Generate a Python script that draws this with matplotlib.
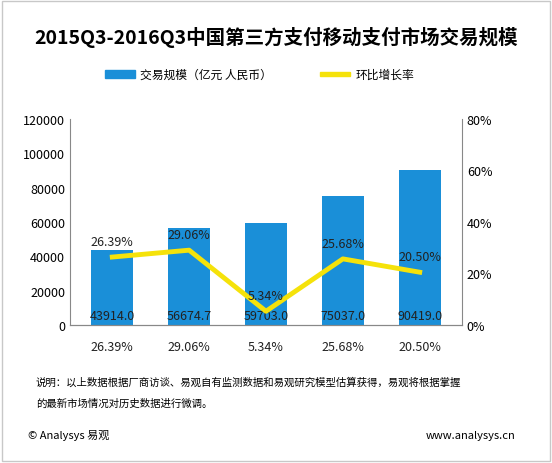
import matplotlib
matplotlib.use("Agg")
import matplotlib.pyplot as plt
from matplotlib.patches import Rectangle

plt.rcParams['font.family'] = ['Noto Sans CJK SC', 'DejaVu Sans']

categories = ["2015Q3", "2015Q4", "2016Q1", "2016Q2", "2016Q3"]
volume = [43914.0, 56674.7, 59703.0, 75037.0, 90419.0]
growth = [26.39, 29.06, 5.34, 25.68, 20.50]

W, H = 552, 464
fig = plt.figure(figsize=(W/100, H/100), dpi=100)
fig.patches.append(Rectangle((0.004, 0.004), 0.992, 0.992, transform=fig.transFigure,
                             fill=False, edgecolor="#c8c8c8", lw=1))
ax = fig.add_axes([70/W, 1-326/H, 392/W, 206/H])
x = list(range(len(categories)))
ax.bar(x, volume, width=0.55, color="#1a8fd8", zorder=2)
ax.set_xlim(-0.55, 4.55)
ax.set_ylim(0, 120000)
ax.set_yticks(range(0, 120001, 20000))
ax.tick_params(axis='y', labelsize=9, length=0)
ax.set_xticks([])
for s in ["top", "right"]:
    ax.spines[s].set_visible(False)
ax.spines["left"].set_color("#888")
ax.spines["bottom"].set_color("#888")
for xi, v in zip(x, volume):
    ax.text(xi, 2000, f"{v:.1f}", ha="center", va="bottom", fontsize=9, color="#222", zorder=5)
ax2 = ax.twinx()
ax2.plot(x, growth, color="#f5e20a", lw=3.5, zorder=3)
ax2.set_ylim(0, 80)
ax2.set_yticks(range(0, 81, 20))
ax2.set_yticklabels([f"{t}%" for t in range(0, 81, 20)])
ax2.tick_params(axis='y', labelsize=9, length=0)
for s in ["top", "left"]:
    ax2.spines[s].set_visible(False)
ax2.spines["right"].set_color("#888")
ax2.spines["bottom"].set_color("#888")
for xi, g in zip(x, growth):
    ax2.text(xi, g + 3.5, f"{g:.2f}%", ha="center", va="bottom", fontsize=9, color="#222")
    ax2.text(xi, -8.5, f"{g:.2f}%", ha="center", va="center", fontsize=9, color="#222", clip_on=False)

fig.text(0.5, 1-38/H, "2015Q3-2016Q3中国第三方支付移动支付市场交易规模", ha="center", va="center",
         fontsize=14, fontweight="bold")
fig.add_artist(Rectangle((105/W, 1-79/H), 30/W, 8/H, transform=fig.transFigure, color="#1a8fd8"))
fig.text(140/W, 1-75/H, "交易规模（亿元 人民币）", va="center", fontsize=8.5)
fig.add_artist(Rectangle((320/W, 1-77/H), 30/W, 4/H, transform=fig.transFigure, color="#f5e20a"))
fig.text(356/W, 1-75/H, "环比增长率", va="center", fontsize=8.5)
fig.text(36/W, 1-383/H, "说明：以上数据根据厂商访谈、易观自有监测数据和易观研究模型估算获得，易观将根据掌握", fontsize=7.5, va="center")
fig.text(36/W, 1-404/H, "的最新市场情况对历史数据进行微调。", fontsize=7.5, va="center")
fig.text(28/W, 1-436/H, "© Analysys 易观", fontsize=8, va="center")
fig.text(515/W, 1-436/H, "www.analysys.cn", fontsize=8, va="center", ha="right")
fig.savefig("out.png", dpi=100)
